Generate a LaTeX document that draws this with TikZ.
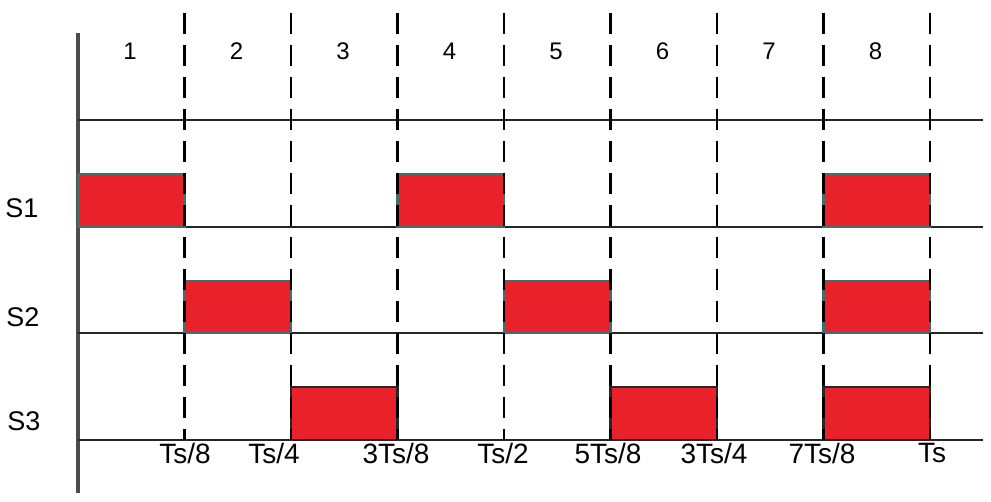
\documentclass[tikz,border=0pt]{standalone}
\usepackage{fontspec}
\setmainfont{Liberation Sans}
\definecolor{pulsered}{HTML}{E8212B}
\definecolor{pulseedge}{HTML}{3F6E6C}
\begin{document}
\begin{tikzpicture}[x=1pt,y=-1pt,
  gridline/.style={line width=2.8pt, draw=black!85},
  axisline/.style={line width=3.2pt, draw=black!70},
  slotline/.style={line width=2.8pt, dash pattern=on 21pt off 11pt, draw=black},
  pulse/.style={fill=pulsered, draw=pulseedge, line width=2.6pt},
  pulsedark/.style={fill=pulsered, draw=black!85, line width=2.6pt},
  slotlabel/.style={font=\fontsize{24}{24}\selectfont, inner sep=0pt},
  rowlabel/.style={font=\fontsize{27}{27}\selectfont, inner sep=0pt},
  timelabel/.style={font=\fontsize{28}{28}\selectfont, inner sep=0pt}
]
\useasboundingbox (0,0) rectangle (991,501);
% vertical axis
\coordinate (axtop) at (78,33);
\coordinate (axbot) at (78,493);
\draw[axisline] (axtop) -- (axbot);
% horizontal lines
\foreach \y/\n in {120/h0,227/h1,333/h2,440/h3}{
  \coordinate (\n l) at (78,\y);
  \coordinate (\n r) at (983,\y);
  \draw[gridline] (\n l) -- (\n r);
}
% pulses: S1
\foreach \k in {0,3,7}{
  \draw[pulse] ({78+106.5*\k},174) rectangle ({78+106.5*(\k+1)},227);
}
% S2
\foreach \k in {1,4,7}{
  \draw[pulse] ({78+106.5*\k},281) rectangle ({78+106.5*(\k+1)},333);
}
% S3
\foreach \k in {2,5,7}{
  \draw[pulsedark] ({78+106.5*\k},387) rectangle ({78+106.5*(\k+1)},440);
}
% dashed slot boundaries
\foreach \k in {1,...,8}{
  \coordinate (t\k) at ({78+106.5*\k},13);
  \coordinate (b\k) at ({78+106.5*\k},440);
  \draw[slotline] (t\k) -- (b\k);
}
% slot numbers
\foreach \k in {1,...,8}{
  \node[slotlabel] (n\k) at ({78+106.5*\k-54.5},51) {\k};
}
% row labels
\node[rowlabel] (s1) at (22,208) {S1};
\node[rowlabel] (s2) at (23,317) {S2};
\node[rowlabel] (s3) at (24,421) {S3};
% time labels
\node[timelabel] (l1) at (185,453) {Ts/8};
\node[timelabel] (l2) at (274,453) {Ts/4};
\node[timelabel] (l3) at (396,453) {3Ts/8};
\node[timelabel] (l4) at (503,453) {Ts/2};
\node[timelabel] (l5) at (608,453) {5Ts/8};
\node[timelabel] (l6) at (714,453) {3Ts/4};
\node[timelabel] (l7) at (822,453) {7Ts/8};
\node[timelabel] (l8) at (932,453) {Ts};
\end{tikzpicture}
\end{document}
